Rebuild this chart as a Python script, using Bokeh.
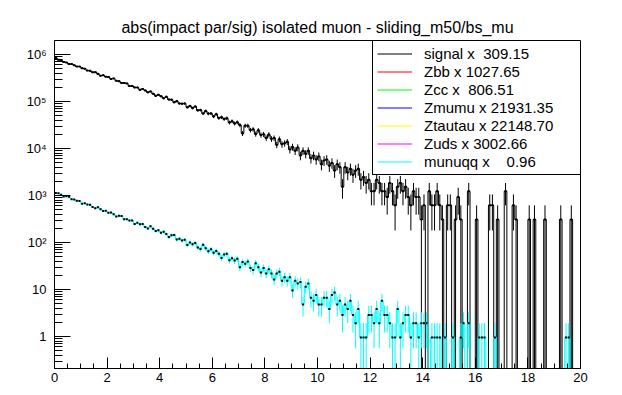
import numpy as np
from bokeh.plotting import figure
from bokeh.models import Legend, LegendItem, Range1d, FixedTicker, CustomJSTickFormatter
from bokeh.embed import file_html
from bokeh.resources import INLINE

TITLE = "abs(impact par/sig) isolated muon - sliding_m50/bs_mu"
X_MIN, X_MAX, N_BINS = 0.0, 20.0, 200

# raw event counts per bin (bin width 0.1)
signal_counts = [
    2735, 2497, 2453, 2253, 2197, 2034, 2026, 1909, 1799, 1797,
    1652, 1621, 1475, 1456, 1358, 1361, 1259, 1150, 1168, 1093,
    1073, 978, 1005, 900, 877, 806, 805, 787, 689, 695,
    645, 644, 576, 597, 557, 507, 530, 475, 428, 450,
    419, 380, 409, 357, 355, 313, 330, 294, 291, 294,
    244, 261, 235, 254, 210, 213, 180, 204, 179, 181,
    156, 174, 144, 150, 137, 143, 116, 123, 111, 117,
    102, 68, 99, 99, 80, 83, 66, 79, 63, 65,
    54, 64, 52, 54, 39, 51, 40, 42, 45, 31,
    35, 29, 34, 23, 29, 25, 29, 20, 23, 19,
    22, 15, 18, 19, 14, 16, 11, 15, 13, 5,
    13, 10, 12, 9, 11, 12, 7, 8, 6, 7,
    4, 4, 7, 6, 4, 4, 3, 6, 4, 2,
    5, 6, 4, 5, 3, 2, 4, 3, 3, 1,
    2, 0, 4, 2, 2, 4, 2, 1, 0, 2,
    2, 0, 1, 3, 1, 0, 0, 4, 0, 0,
    1, 0, 0, 0, 0, 2, 2, 0, 1, 0,
    0, 4, 0, 0, 2, 1, 0, 0, 0, 0,
    1, 0, 1, 0, 0, 0, 1, 0, 0, 0,
    0, 0, 1, 0, 0, 0, 1, 0, 0, 0,
]
munuqq_counts = [
    1181, 1169, 1088, 999, 1004, 979, 873, 858, 806, 796,
    699, 713, 669, 663, 593, 557, 587, 533, 490, 492,
    446, 452, 415, 371, 387, 382, 327, 328, 305, 308,
    257, 274, 254, 258, 222, 207, 232, 204, 183, 190,
    168, 177, 158, 136, 149, 151, 121, 125, 115, 120,
    92, 105, 96, 102, 82, 76, 93, 79, 68, 75,
    63, 69, 60, 49, 58, 60, 44, 48, 43, 47,
    31, 40, 37, 41, 30, 27, 38, 31, 24, 30,
    23, 28, 23, 17, 23, 25, 16, 19, 16, 19,
    10, 16, 14, 15, 5, 12, 14, 7, 6, 8,
    5, 5, 7, 7, 4, 8, 9, 5, 6, 3,
    5, 4, 6, 3, 2, 4, 1, 1, 1, 3,
    3, 2, 4, 2, 6, 3, 3, 2, 1, 1,
    4, 1, 2, 3, 3, 1, 2, 2, 1, 2,
    2, 2, 0, 1, 1, 1, 1, 0, 1, 0,
    0, 1, 0, 0, 1, 2, 0, 2, 0, 0,
    0, 1, 1, 1, 0, 0, 0, 1, 0, 0,
    0, 0, 0, 0, 0, 0, 0, 0, 0, 0,
    0, 0, 0, 0, 0, 0, 0, 0, 0, 0,
    0, 0, 0, 0, 1, 1, 0, 0, 0, 0,
]
# background samples with no selected events
zbb_counts = [0] * N_BINS
zcc_counts = [0] * N_BINS
zmumu_counts = [0] * N_BINS
ztautau_counts = [0] * N_BINS
zuds_counts = [0] * N_BINS

sample_names = ["signal", "Zbb", "Zcc", "Zmumu", "Ztautau", "Zuds", "munuqq"]
sample_scales = [309.15, 1027.65, 806.51, 21931.35, 22148.70, 3002.66, 0.96]
sample_counts = [signal_counts, zbb_counts, zcc_counts, zmumu_counts,
                 ztautau_counts, zuds_counts, munuqq_counts]
sample_colors = ["#000000", "#ff0000", "#00ff00", "#0000ff", "#ffff00", "#ff00ff", "#00ffff"]

Y_MIN, Y_MAX = 0.209, 1.99e6
FLOOR = 1e-3
FONT = "Liberation Sans"

p = figure(width=614, height=390, output_backend="svg", toolbar_location=None,
           x_range=Range1d(X_MIN, X_MAX), y_range=Range1d(Y_MIN, Y_MAX),
           y_axis_type="log", min_border_left=54, min_border_right=34,
           min_border_top=40, min_border_bottom=22)
p.title.text = TITLE
p.title.align = "center"
p.title.text_font = FONT
p.title.text_font_size = "16px"
p.title.text_font_style = "normal"
p.title.text_color = "black"
p.title.standoff = 9
p.grid.visible = False
p.outline_line_color = "black"
p.outline_line_alpha = 1
p.background_fill_color = "white"
p.border_fill_color = "white"

p.xaxis.ticker = FixedTicker(ticks=list(range(0, 21, 2)),
                             minor_ticks=[0.5 * k for k in range(0, 41)])
dec = [10.0 ** k for k in range(0, 7)]
minors = [m * 10.0 ** k for k in range(-1, 7) for m in range(2, 10)]
minors = [t for t in minors if Y_MIN <= t <= Y_MAX]
p.yaxis.ticker = FixedTicker(ticks=dec, minor_ticks=minors)
p.yaxis.formatter = CustomJSTickFormatter(code="""
const e = Math.round(Math.log10(tick));
const sup = ['\u2070','\u00b9','\u00b2','\u00b3','\u2074','\u2075','\u2076','\u2077','\u2078','\u2079'];
if (e <= 0) return '1';
if (e == 1) return '10';
return '10' + sup[e];
""")
for ax in (p.xaxis[0], p.yaxis[0]):
    ax.axis_line_color = "black"
    ax.major_tick_line_color = "black"
    ax.minor_tick_line_color = "black"
    ax.major_tick_out = 0
    ax.minor_tick_out = 0
    ax.major_label_text_font = FONT
    ax.major_label_text_font_size = "13px"
    ax.major_label_text_color = "black"
p.xaxis.major_tick_in = 11
p.xaxis.minor_tick_in = 5
p.xaxis.major_label_standoff = 4
p.yaxis.major_tick_in = 16
p.yaxis.minor_tick_in = 8
p.yaxis.major_label_standoff = 8

edges = np.linspace(X_MIN, X_MAX, N_BINS + 1)
centers = 0.5 * (edges[:-1] + edges[1:])


def draw_hist(counts, scale, color):
    n = np.asarray(counts, dtype=float)
    v = n * scale
    err = np.sqrt(n) * scale
    vp = np.where(n > 0, v, FLOOR)
    xs = np.repeat(edges, 2)[1:-1]
    ys = np.repeat(vp, 2)
    r = p.line(xs, ys, line_color=color, line_width=1)
    m = n > 0
    if m.any():
        p.segment(x0=centers[m], y0=np.maximum(v[m] - err[m], FLOOR),
                  x1=centers[m], y1=v[m] + err[m], line_color=color, line_width=1)
        p.segment(x0=edges[:-1][m], y0=v[m], x1=edges[1:][m], y1=v[m],
                  line_color=color, line_width=1)
        p.scatter(centers[m], v[m], marker="square", size=2,
                  fill_color="black", line_color=None)
    return r


items = []
for name, scale, counts, color in zip(sample_names, sample_scales, sample_counts, sample_colors):
    r = draw_hist(counts, scale, color)
    items.append(LegendItem(label=f"{name} x {scale:7.2f}", renderers=[r]))

legend = Legend(items=items, location=(318, 193), margin=0, padding=4, spacing=1,
                label_height=17, glyph_height=17, glyph_width=35, label_standoff=12,
                label_width=153, label_text_font=FONT, label_text_font_size="15px",
                label_text_color="black", border_line_color="black", border_line_width=1,
                border_line_alpha=1, background_fill_color="white", background_fill_alpha=1)
p.add_layout(legend)

open("out.html", "w").write(file_html(p, INLINE))
